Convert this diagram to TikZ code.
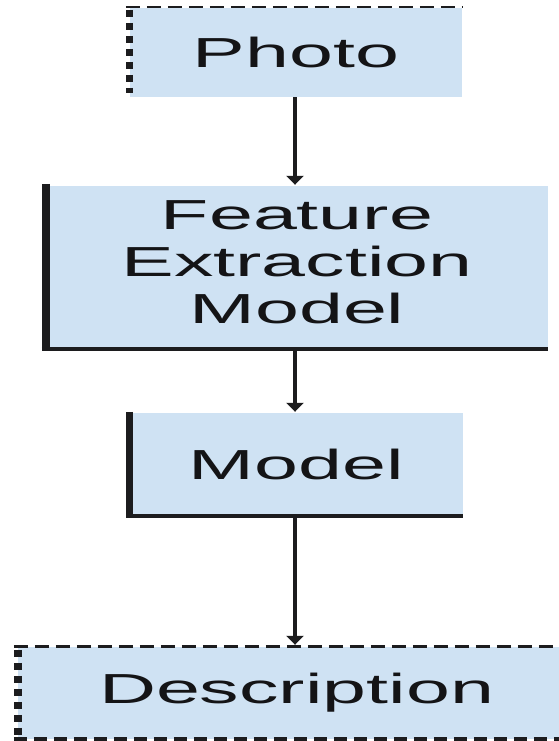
\documentclass[tikz,border=0pt]{standalone}
\usepackage{fontspec}
\setmainfont{Liberation Sans}
\usepackage{graphicx}
\usetikzlibrary{arrows.meta}
\definecolor{boxfill}{RGB}{207,226,243}
\definecolor{ink}{RGB}{28,28,30}
\definecolor{txt}{RGB}{20,20,22}
\newcommand{\lbl}[1]{\scalebox{1.88}[1]{\fontsize{42}{47}\selectfont #1}}
\begin{document}
\begin{tikzpicture}[x=1pt,y=1pt,
  box/.style={fill=boxfill, draw=none, inner sep=0pt, text=txt},
  solidedge/.style={draw=ink, line width=#1},
  dashedge/.style={draw=ink, line width=#1, dash pattern=on 14pt off 7pt},
  blockedge/.style={draw=ink, line width=#1, dash pattern=on 7pt off 6pt},
  conn/.style={draw=ink, line width=4pt, -{Triangle[length=9pt,width=17pt]}}]
\useasboundingbox (0,0) rectangle (559,741);
\fill[white] (0,0) rectangle (559,741);
% boxes
\node[box, minimum width=332pt, minimum height=89pt] (photo) at (296,688.5) {\lbl{Photo}};
\node[box, minimum width=502pt, minimum height=163pt] (feat) at (297,473.5)
  {\raisebox{-3pt}{\lbl{\begin{tabular}{@{}c@{}}Feature\\Extraction\\Model\end{tabular}}}};
\node[box, minimum width=333pt, minimum height=103pt] (model) at (296.5,276.5) {\lbl{Model}};
\node[box, minimum width=541pt, minimum height=92pt] (desc) at (288.5,48) {\hspace*{16pt}\lbl{Description}};
% borders
\draw[dashedge=2.5pt] ([xshift=-4pt,yshift=1pt]photo.north west) -- ([yshift=1pt]photo.north east);
\draw[blockedge=7pt] ([yshift=-2pt]photo.north west) -- ([yshift=4pt]photo.south west);
\draw[solidedge=8pt] ([yshift=2pt]feat.north west) -- (feat.south west);
\draw[solidedge=4pt] ([xshift=-4pt]feat.south west) -- (feat.south east);
\draw[solidedge=7pt] ([yshift=1pt]model.north west) -- (model.south west);
\draw[solidedge=4pt] ([xshift=-3.5pt]model.south west) -- (model.south east);
\draw[dashedge=3pt] ([xshift=-4pt]desc.north west) -- (desc.north east);
\draw[blockedge=8pt] ([yshift=-3pt]desc.north west) -- ([yshift=2pt]desc.south west);
\draw[draw=ink, line width=5pt, dash pattern=on 13pt off 7pt] ([xshift=-4pt,yshift=0pt]desc.south west) -- (desc.south east);
% connectors (all on the common axis x = 295)
\coordinate (axis) at (295,0);
\draw[conn] (axis |- photo.south) -- ([yshift=1pt]axis |- feat.north);
\draw[conn] (axis |- feat.south) -- ([yshift=1pt]axis |- model.north);
\draw[conn] (axis |- model.south) -- ([yshift=2pt]axis |- desc.north);
\end{tikzpicture}
\end{document}
